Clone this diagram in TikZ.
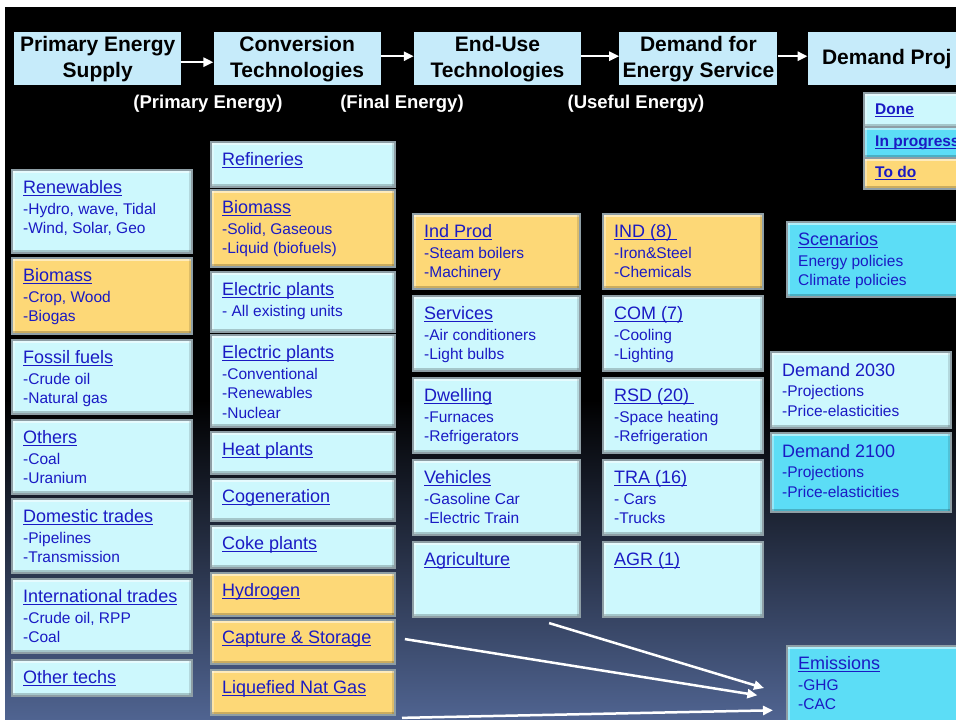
\documentclass[tikz,border=0pt]{standalone}
\usepackage{fontspec}
\setmainfont{Liberation Sans}
\usepackage{tikz}
\usetikzlibrary{arrows.meta, positioning}

\definecolor{stagefill}{HTML}{C6EBFA}
\definecolor{donefill}{HTML}{CDF8FD}
\definecolor{doingfill}{HTML}{5CDDF6}
\definecolor{todofill}{HTML}{FDD877}
\definecolor{linkblue}{HTML}{1A1AC4}
\definecolor{rimgray}{HTML}{8E9EA5}
\definecolor{dusk}{HTML}{1C2438}
\definecolor{slate}{HTML}{506491}

\newcommand{\lnk}[1]{\underline{\smash{#1}}\vphantom{A}}
\newcommand{\ttl}{\fontsize{18}{20}\selectfont}
\newcommand{\entry}[2]{{\ttl\lnk{#1}}\\[1pt]#2}

\tikzset{bevel/.style={path picture={
  \fill[white, opacity=.5] (path picture bounding box.north west) rectangle ([yshift=-3pt]path picture bounding box.north east);
  \fill[white, opacity=.35] (path picture bounding box.north west) rectangle ([xshift=3pt]path picture bounding box.south west);
  \fill[black, opacity=.2] ([yshift=3pt]path picture bounding box.south west) rectangle (path picture bounding box.south east);
  \fill[black, opacity=.12] ([xshift=-3pt]path picture bounding box.north east) rectangle (path picture bounding box.south east);
}}}
\tikzstyle{stage} = [rectangle, fill=stagefill, minimum width=167pt, minimum height=53pt, inner sep=0pt, align=center, font=\bfseries\fontsize{21}{26}\selectfont]
\tikzstyle{flow} = [white, line width=2.5pt, -{Triangle[length=10pt,width=9pt]}]
\tikzstyle{tag} = [text=white, font=\bfseries\fontsize{18.5}{20}\selectfont]
\tikzstyle{done} = [rectangle, draw=rimgray, line width=1.2pt, fill=donefill, inner sep=0pt, outer sep=0pt, bevel]
\tikzstyle{doing} = [done, fill=doingfill]
\tikzstyle{todo} = [done, fill=todofill]
\tikzstyle{txt} = [anchor=north west, align=left, inner sep=0pt, xshift=11pt, yshift=-11pt, text=linkblue, font=\fontsize{15.5}{19.5}\selectfont]
\tikzstyle{keytxt} = [anchor=west, inner sep=0pt, xshift=11pt, text=linkblue, font=\bfseries\fontsize{15.5}{18}\selectfont]
\tikzstyle{col1} = [minimum width=180pt]
\tikzstyle{col2} = [minimum width=184pt]
\tikzstyle{col3} = [minimum width=167pt, minimum height=75pt]
\tikzstyle{col4} = [minimum width=160pt, minimum height=75pt]

\begin{document}
\begin{tikzpicture}[x=1pt, y=-1pt]
    \path[use as bounding box] (0,0) rectangle (956,720);
    \clip (0,0) rectangle (956,720);

    % Backdrop
    \fill[white] (0,0) rectangle (956,720);
    \fill[black] (5,7) rectangle (956,401);
    \shade[top color=black, middle color=dusk, bottom color=slate] (5,400) rectangle (956,720);

    % Stages
    \node (prim) [stage, anchor=north west] at (14,32) {Primary Energy\\Supply};
    \node (conv) [stage, right=32pt of prim] {Conversion\\Technologies};
    \node (enduse) [stage, right=33pt of conv] {End-Use\\Technologies};
    \node (service) [stage, minimum width=158pt, right=38pt of enduse] {Demand for\\Energy Service};
    \node (proj) [stage, minimum width=158pt, right=30pt of service] {Demand Proj};

    \draw [flow] ([yshift=-3.5pt]prim.east) -- ([yshift=-3.5pt]conv.west);
    \draw [flow] ([yshift=2.5pt]conv.east) -- ([yshift=2.5pt]enduse.west);
    \draw [flow] ([yshift=2.5pt]enduse.east) -- ([yshift=2.5pt]service.west);
    \draw [flow] ([yshift=2.5pt]service.east) -- ([yshift=2.5pt]proj.west);

    % Energy levels
    \node (pe) [tag] at (208,104) {(Primary Energy)};
    \node (fe) [tag] at (402,104) {(Final Energy)};
    \node (ue) [tag] at (636,104) {(Useful Energy)};

    % Legend
    \node (kdone) [done, minimum width=110pt, minimum height=34pt, anchor=north west, label={[keytxt]west:{\lnk{Done}}}] at (864,93) {};
    \node (kdoing) [doing, minimum width=110pt, minimum height=31pt, below=0pt of kdone, label={[keytxt]west:{\lnk{In progress}}}] {};
    \node (ktodo) [todo, minimum width=110pt, minimum height=31pt, below=0pt of kdoing, label={[keytxt]west:{\lnk{To do}}}] {};

    % Primary supply
    \node (ren) [done, col1, minimum height=83pt, anchor=north, label={[txt]north west:{\entry{Renewables}{-Hydro, wave, Tidal\\-Wind, Solar, Geo}}}] at (102,170) {};
    \node (bio1) [todo, col1, minimum height=76pt, below=5pt of ren, label={[txt]north west:{\entry{Biomass}{-Crop, Wood\\-Biogas}}}] {};
    \node (fossil) [done, col1, minimum height=74pt, below=6pt of bio1, label={[txt]north west:{\entry{Fossil fuels}{-Crude oil\\-Natural gas}}}] {};
    \node (others) [done, col1, minimum height=74pt, below=6pt of fossil, label={[txt]north west:{\entry{Others}{-Coal\\-Uranium}}}] {};
    \node (dom) [done, col1, minimum height=74pt, below=5pt of others, label={[txt]north west:{\entry{Domestic trades}{-Pipelines\\-Transmission}}}] {};
    \node (intl) [done, col1, minimum height=74pt, below=6pt of dom, label={[txt]north west:{\entry{International trades}{-Crude oil, RPP\\-Coal}}}] {};
    \node (otech) [done, col1, minimum height=36pt, below=7pt of intl, label={[txt]north west:{{\ttl\lnk{Other techs}}}}] {};

    % Conversion
    \node (ref) [done, col2, minimum height=45pt, anchor=north, label={[txt]north west:{{\ttl\lnk{Refineries}}}}] at (303,142) {};
    \node (bio2) [todo, col2, minimum height=77pt, below=3pt of ref, label={[txt]north west:{\entry{Biomass}{-Solid, Gaseous\\-Liquid (biofuels)}}}] {};
    \node (elec1) [done, col2, minimum height=60pt, below=5pt of bio2, label={[txt]north west:{\entry{Electric plants}{- All existing units}}}] {};
    \node (elec2) [done, col2, minimum height=92pt, below=3pt of elec1, label={[txt]north west:{\entry{Electric plants}{-Conventional\\-Renewables\\-Nuclear}}}] {};
    \node (heat) [done, col2, minimum height=42pt, below=5pt of elec2, label={[txt]north west:{{\ttl\lnk{Heat plants}}}}] {};
    \node (cogen) [done, col2, minimum height=42pt, below=5pt of heat, label={[txt]north west:{{\ttl\lnk{Cogeneration}}}}] {};
    \node (coke) [done, col2, minimum height=42pt, below=5pt of cogen, label={[txt]north west:{{\ttl\lnk{Coke plants}}}}] {};
    \node (hydro) [todo, col2, minimum height=43pt, below=5pt of coke, label={[txt]north west:{{\ttl\lnk{Hydrogen}}}}] {};
    \node (ccs) [todo, col2, minimum height=44pt, below=4pt of hydro, label={[txt]north west:{{\ttl\lnk{Capture \& Storage}}}}] {};
    \node (lng) [todo, col2, minimum height=45pt, below=6pt of ccs, label={[txt]north west:{{\ttl\lnk{Liquefied Nat Gas}}}}] {};

    % End-use
    \node (ind) [todo, col3, anchor=north, label={[txt]north west:{\entry{Ind Prod}{-Steam boilers\\-Machinery}}}] at (496.5,214) {};
    \node (serv) [done, col3, below=7pt of ind, label={[txt]north west:{\entry{Services}{-Air conditioners\\-Light bulbs}}}] {};
    \node (dwell) [done, col3, below=7pt of serv, label={[txt]north west:{\entry{Dwelling}{-Furnaces\\-Refrigerators}}}] {};
    \node (veh) [done, col3, below=7pt of dwell, label={[txt]north west:{\entry{Vehicles}{-Gasoline Car\\-Electric Train}}}] {};
    \node (agri) [done, col3, below=7pt of veh, label={[txt]north west:{{\ttl\lnk{Agriculture}}}}] {};

    % Demand sectors
    \node (indd) [todo, col4, anchor=north, label={[txt]north west:{\entry{IND (8)\ }{-Iron\&Steel\\-Chemicals}}}] at (683,214) {};
    \node (com) [done, col4, below=7pt of indd, label={[txt]north west:{\entry{COM (7)}{-Cooling\\-Lighting}}}] {};
    \node (rsd) [done, col4, below=7pt of com, label={[txt]north west:{\entry{RSD (20)\ }{-Space heating\\-Refrigeration}}}] {};
    \node (tra) [done, col4, below=7pt of rsd, label={[txt]north west:{\entry{TRA (16)}{- Cars\\-Trucks}}}] {};
    \node (agr) [done, col4, below=7pt of tra, label={[txt]north west:{{\ttl\lnk{AGR (1)}}}}] {};

    % Projections
    \node (scen) [doing, minimum width=185pt, minimum height=75pt, anchor=north west, label={[txt]north west:{\entry{Scenarios}{Energy policies\\Climate policies}}}] at (787,222) {};
    \node (d2030) [done, minimum width=180pt, minimum height=76pt, anchor=north west, label={[txt]north west:{{\ttl Demand 2030}\\[1pt]-Projections\\-Price-elasticities}}] at (771,352) {};
    \node (d2100) [doing, minimum width=180pt, minimum height=79pt, below=5pt of d2030, label={[txt]north west:{{\ttl Demand 2100}\\[1pt]-Projections\\-Price-elasticities}}] {};
    \node (emis) [doing, minimum width=185pt, minimum height=80pt, anchor=north west, label={[txt]north west:{\entry{Emissions}{-GHG\\-CAC}}}] at (787,646) {};

    % Emission flows
    \draw [flow, shorten <=21pt, shorten >=24pt] ([xshift=32.5pt]agri.south) -- ([yshift=-9pt]emis.west);
    \draw [flow, shorten <=10pt, shorten >=30pt] ([yshift=4.5pt]ccs.east) -- ([yshift=-14pt]emis.west);
    \draw [flow, shorten <=7pt, shorten >=14pt] ([yshift=-3pt]lng.south east) -- ([yshift=-24pt]emis.west);
\end{tikzpicture}
\end{document}
